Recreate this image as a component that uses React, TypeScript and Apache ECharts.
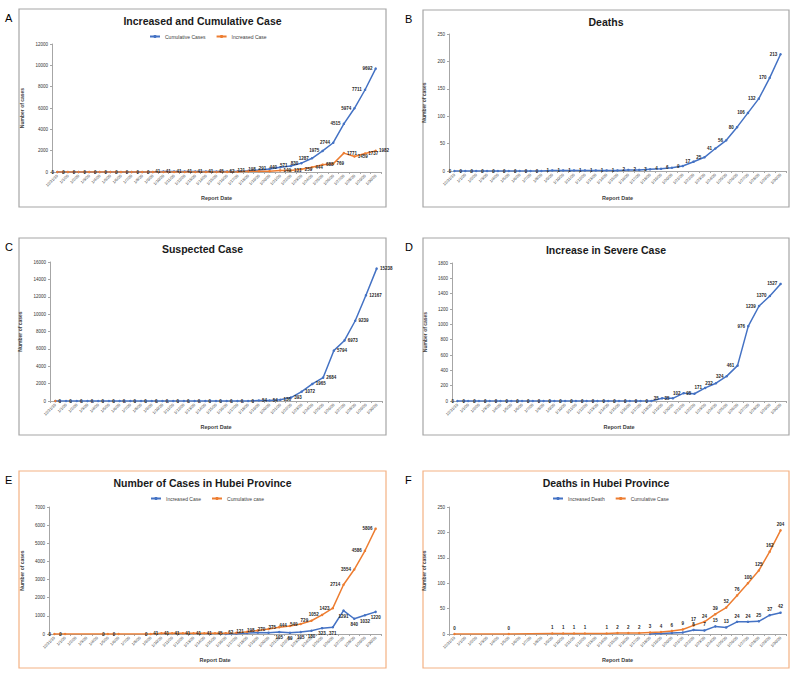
import React, { useEffect, useRef } from 'react';
import * as echarts from 'echarts';

const DATES = ['12/31/19', '1/1/20', '1/2/20', '1/3/20', '1/4/20', '1/5/20', '1/6/20', '1/7/20', '1/8/20', '1/9/20', '1/10/20', '1/11/20', '1/12/20', '1/13/20', '1/14/20', '1/15/20', '1/16/20', '1/17/20', '1/18/20', '1/19/20', '1/20/20', '1/21/20', '1/22/20', '1/23/20', '1/24/20', '1/25/20', '1/26/20', '1/27/20', '1/28/20', '1/29/20', '1/30/20'];

// Panel A
const cumulativeCases = [0, 0, 0, 0, 0, 0, 0, 0, 0, 0, 41, 41, 41, 41, 41, 41, 45, 62, 121, 198, 291, 440, 571, 830, 1287, 1975, 2744, 4515, 5974, 7711, 9692];
const increasedCases = [0, 0, 0, 0, 0, 0, 0, 0, 0, 0, 0, 0, 0, 0, 0, 0, 4, 17, 59, 77, 77, 149, 131, 259, 444, 688, 769, 1771, 1459, 1737, 1982];
// Panel B
const deaths = [0, 0, 0, 0, 0, 0, 0, 0, 0, 1, 1, 1, 1, 1, 1, 1, 2, 2, 3, 4, 6, 9, 17, 25, 41, 56, 80, 106, 132, 170, 213];
// Panel C
const suspected = [0, 0, 0, 0, 0, 0, 0, 0, 0, 0, 0, 0, 0, 0, 0, 0, 0, 0, 0, 54, 54, 136, 393, 1072, 1965, 2684, 5794, 6973, 9239, 12167, 15238];
const suspectedMarker = [0];
// Panel D
const severeIncrease = [0, 0, 0, 0, 0, 0, 0, 0, 0, 0, 0, 0, 0, 0, 0, 0, 0, 0, 0, 35, 35, 102, 95, 171, 232, 324, 461, 976, 1239, 1370, 1527];
// Panel E
const hubeiIncreased = [null, null, null, null, null, null, null, null, null, null, null, null, null, null, null, null, 4, 17, 59, 77, 72, 105, 69, 105, 180, 323, 371, 1291, 840, 1032, 1220];
const hubeiCumulative = [0, 0, null, null, null, 0, 0, null, null, 0, 41, 41, 41, 41, 41, 41, 45, 62, 121, 198, 270, 375, 444, 549, 729, 1052, 1423, 2714, 3554, 4586, 5806];
// Panel F
const hubeiDeathsIncreased = [null, null, null, null, null, null, null, null, null, null, null, null, null, null, null, null, null, null, 0, 1, 2, 3, 8, 7, 15, 13, 24, 24, 25, 37, 42];
const hubeiDeathsCumulative = [0, null, null, null, null, 0, null, null, null, 1, 1, 1, 1, null, 1, 2, 2, 2, 3, 4, 6, 9, 17, 24, 39, 52, 76, 100, 125, 162, 204];

const Y_MAX_A = 12000, Y_INT_A = 2000;
const Y_MAX_B = 250, Y_INT_B = 50;
const Y_MAX_C = 16000, Y_INT_C = 2000;
const Y_MAX_D = 1800, Y_INT_D = 200;
const Y_MAX_E = 7000, Y_INT_E = 1000;
const Y_MAX_F = 250, Y_INT_F = 50;

const BLUE = '#4472C4';
const ORANGE = '#ED7D31';
const FONT = '"Liberation Sans", Arial, sans-serif';

type SeriesCfg = {
  name: string;
  data: (number | null)[];
  color: string;
  pos: string;
  labelFrom?: number;
  noLabel?: boolean;
};

type PanelCfg = {
  left: number; top: number; width: number; height: number;
  letter: string;
  box: [number, number, number, number];
  boxColor: string;
  title: string;
  titleX: number; titleY: number;
  legend?: { left: number; top: number; names: string[] };
  grid: { left: number; right: number; top: number; bottom: number };
  yMax: number; yInt: number;
  yNameGap: number; xNameGap: number;
  series: SeriesCfg[];
};

function buildOption(p: PanelCfg): any {
  const [bx, by, bw, bh] = p.box;
  return {
    animation: false,
    textStyle: { fontFamily: FONT },
    graphic: [
      { type: 'rect', shape: { x: bx, y: by, width: bw, height: bh }, style: { fill: 'none', stroke: p.boxColor, lineWidth: 1.2 }, silent: true },
      { type: 'text', x: 5, y: by + 3, style: { text: p.letter, fontSize: 11, fontFamily: FONT, fill: '#000', textVerticalAlign: 'top' } },
      { type: 'text', x: p.titleX, y: p.titleY, style: { text: p.title, fontSize: 10.5, fontWeight: 'bold', fontFamily: FONT, fill: '#1a1a1a', textAlign: 'center', textVerticalAlign: 'middle' } },
    ],
    legend: p.legend ? {
      left: p.legend.left, top: p.legend.top, data: p.legend.names,
      itemWidth: 10, itemHeight: 4, itemGap: 10,
      textStyle: { fontSize: 5, color: '#404040', fontFamily: FONT },
      padding: 0,
    } : { show: false },
    grid: { ...p.grid, containLabel: false },
    xAxis: {
      type: 'category', data: DATES, boundaryGap: true,
      axisLine: { show: true, lineStyle: { color: '#a6a6a6', width: 1 } },
      axisTick: { show: true, length: 2, lineStyle: { color: '#a6a6a6' } },
      axisLabel: { rotate: 45, fontSize: 4, interval: 0, color: '#404040', margin: 3, fontFamily: FONT },
      name: 'Report Date', nameLocation: 'middle', nameGap: p.xNameGap,
      nameTextStyle: { fontSize: 5.5, fontWeight: 'bold', color: '#404040', fontFamily: FONT },
    },
    yAxis: {
      type: 'value', min: 0, max: p.yMax, interval: p.yInt,
      splitLine: { show: false },
      axisLine: { show: true, lineStyle: { color: '#a6a6a6', width: 1 } },
      axisTick: { show: true, length: 2, lineStyle: { color: '#a6a6a6' } },
      axisLabel: { fontSize: 4.5, color: '#333', margin: 4, fontFamily: FONT, formatter: (v: number) => String(v) },
      name: 'Number of cases', nameLocation: 'middle', nameGap: p.yNameGap,
      nameTextStyle: { fontSize: 5, fontWeight: 'bold', color: '#404040', fontFamily: FONT },
    },
    series: p.series.map((s) => ({
      type: 'line', name: s.name, data: s.data, connectNulls: true,
      symbol: 'circle', symbolSize: 2.5, showAllSymbol: true,
      lineStyle: { width: 1.5, color: s.color },
      itemStyle: { color: s.color },
      label: {
        show: !s.noLabel, position: s.pos, distance: 2, fontSize: 4.5, fontWeight: 'bold', color: '#262626', fontFamily: FONT,
        formatter: (pr: any) => (s.labelFrom !== undefined && pr.dataIndex < s.labelFrom ? '' : String(pr.value)),
      },
      emphasis: { disabled: true },
    })),
  };
}

const GRAY = '#a6a6a6';
const PEACH = '#F4B183';

const PANELS: PanelCfg[] = [
  {
    left: 0, top: 0, width: 400, height: 225, letter: 'A', box: [19, 9, 367, 198], boxColor: GRAY,
    title: 'Increased and Cumulative Case', titleX: 202.5, titleY: 21,
    legend: { left: 149, top: 34, names: ['Cumulative Cases', 'Increased Case'] },
    grid: { left: 52, right: 19, top: 44, bottom: 53 }, yMax: Y_MAX_A, yInt: Y_INT_A, yNameGap: 21, xNameGap: 23,
    series: [
      { name: 'Cumulative Cases', data: cumulativeCases, color: BLUE, pos: 'left' },
      { name: 'Increased Case', data: increasedCases, color: ORANGE, pos: 'right', labelFrom: 21 },
    ],
  },
  {
    left: 400, top: 0, width: 400, height: 225, letter: 'B', box: [23, 10, 366, 197], boxColor: GRAY,
    title: 'Deaths', titleX: 206, titleY: 22,
    grid: { left: 49, right: 14, top: 34, bottom: 54 }, yMax: Y_MAX_B, yInt: Y_INT_B, yNameGap: 15, xNameGap: 24,
    series: [{ name: 'Deaths', data: deaths, color: BLUE, pos: 'left' }],
  },
  {
    left: 0, top: 225, width: 400, height: 220, letter: 'C', box: [19, 13, 367, 197], boxColor: GRAY,
    title: 'Suspected Case', titleX: 202.5, titleY: 24,
    grid: { left: 50, right: 18, top: 37, bottom: 44 }, yMax: Y_MAX_C, yInt: Y_INT_C, yNameGap: 20, xNameGap: 23,
    series: [
      { name: 'Suspected Case', data: suspected, color: BLUE, pos: 'right' },
      { name: 'Reported', data: suspectedMarker, color: ORANGE, pos: 'right', noLabel: true },
    ],
  },
  {
    left: 400, top: 225, width: 400, height: 220, letter: 'D', box: [23, 13, 366, 197], boxColor: GRAY,
    title: 'Increase in Severe Case', titleX: 206, titleY: 25,
    grid: { left: 52, right: 14, top: 38, bottom: 44 }, yMax: Y_MAX_D, yInt: Y_INT_D, yNameGap: 17, xNameGap: 23,
    series: [{ name: 'Increase in Severe Case', data: severeIncrease, color: BLUE, pos: 'left' }],
  },
  {
    left: 0, top: 445, width: 400, height: 229, letter: 'E', box: [19, 26, 367, 197], boxColor: PEACH,
    title: 'Number of Cases in Hubei Province', titleX: 202.5, titleY: 38,
    legend: { left: 150, top: 51, names: ['Increased Case', 'Cumulative case'] },
    grid: { left: 49, right: 19, top: 62, bottom: 40 }, yMax: Y_MAX_E, yInt: Y_INT_E, yNameGap: 19, xNameGap: 23,
    series: [
      { name: 'Increased Case', data: hubeiIncreased, color: BLUE, pos: 'bottom', labelFrom: 21 },
      { name: 'Cumulative case', data: hubeiCumulative, color: ORANGE, pos: 'left' },
    ],
  },
  {
    left: 400, top: 445, width: 400, height: 229, letter: 'F', box: [23, 26, 366, 197], boxColor: PEACH,
    title: 'Deaths in Hubei Province', titleX: 206, titleY: 38,
    legend: { left: 152, top: 51, names: ['Increased Death', 'Cumulative Case'] },
    grid: { left: 49, right: 14, top: 62, bottom: 40 }, yMax: Y_MAX_F, yInt: Y_INT_F, yNameGap: 15, xNameGap: 23,
    series: [
      { name: 'Increased Death', data: hubeiDeathsIncreased, color: BLUE, pos: 'top', labelFrom: 22 },
      { name: 'Cumulative Case', data: hubeiDeathsCumulative, color: ORANGE, pos: 'top' },
    ],
  },
];

function Panel({ cfg }: { cfg: PanelCfg }) {
  const ref = useRef<HTMLDivElement>(null);
  useEffect(() => {
    if (!ref.current) return;
    const chart = echarts.init(ref.current, undefined, { renderer: 'svg' });
    chart.setOption(buildOption(cfg));
    return () => chart.dispose();
  }, [cfg]);
  return (
    <div
      ref={ref}
      style={{ position: 'absolute', left: cfg.left, top: cfg.top, width: cfg.width, height: cfg.height }}
    />
  );
}

export default function App() {
  return (
    <div style={{ position: 'absolute', left: 0, top: 0, width: 800, height: 674, background: '#fff', overflow: 'hidden' }}>
      {PANELS.map((p) => (
        <Panel key={p.letter} cfg={p} />
      ))}
    </div>
  );
}
